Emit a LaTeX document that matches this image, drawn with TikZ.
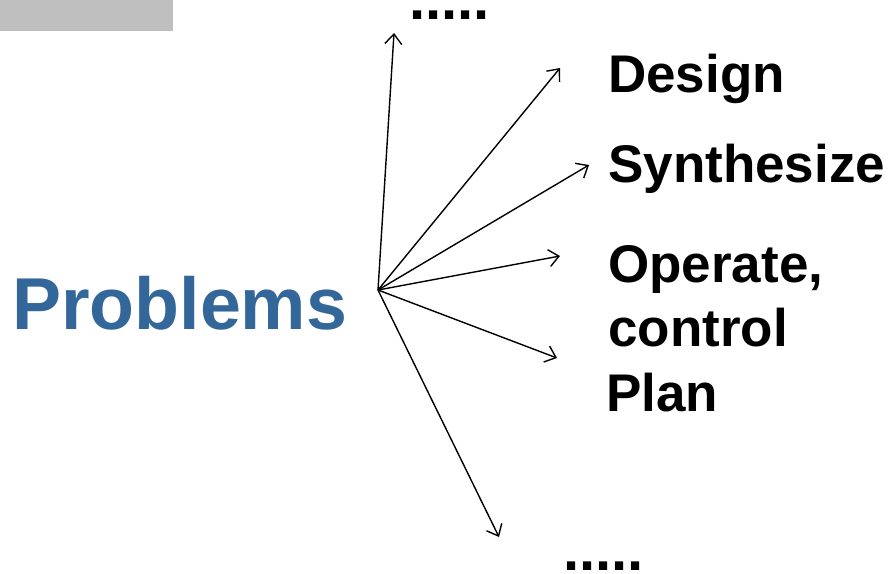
\documentclass[tikz,border=0pt]{standalone}
\usepackage{fontspec}
\setmainfont{Liberation Sans}
\usetikzlibrary{arrows.meta}
\definecolor{probblue}{RGB}{52,103,153}
\definecolor{bargray}{RGB}{191,191,191}
\begin{document}
\begin{tikzpicture}[x=1pt,y=-1pt,
  lbl/.style={inner sep=0pt,anchor=base west,font=\fontsize{53}{61}\selectfont\bfseries},
  dots/.style={inner sep=0pt,anchor=base west,text height=8pt,text depth=0pt,font=\fontsize{58}{60}\selectfont\bfseries},
  conn/.style={line width=1.4pt,-{Straight Barb[length=10pt,width=17pt,line width=1.4pt]}}]
\useasboundingbox (0,0) rectangle (890,573);
\fill[bargray] (0,0) rectangle (173,31);
\node[inner sep=0pt,anchor=base west,text=probblue,font=\fontsize{73.5}{80}\selectfont\bfseries] (prob) at (12,329) {Problems};
\node[lbl] (design) at (608,92) {Design};
\node[lbl] (synth) at (608,182) {Synthesize};
\node[lbl] (oper) at (608,282) {Operate,};
\node[lbl] (ctrl) at (608,346) {control};
\node[lbl] (plan) at (606,411) {Plan};
\node[dots] (topdots) at (409,19) {.....};
\node[dots] (botdots) at (563,570) {.....};
\coordinate (o) at (378,290);
\coordinate (e1) at (394,33);
\coordinate (e2) at (560,68);
\coordinate (e3) at (589,165);
\coordinate (e4) at (560,256);
\coordinate (e5) at (557,358);
\coordinate (e6) at (499,537);
\foreach \e in {e1,e2,e3,e4,e5,e6} \draw[conn] (o) -- (\e);
\end{tikzpicture}
\end{document}
